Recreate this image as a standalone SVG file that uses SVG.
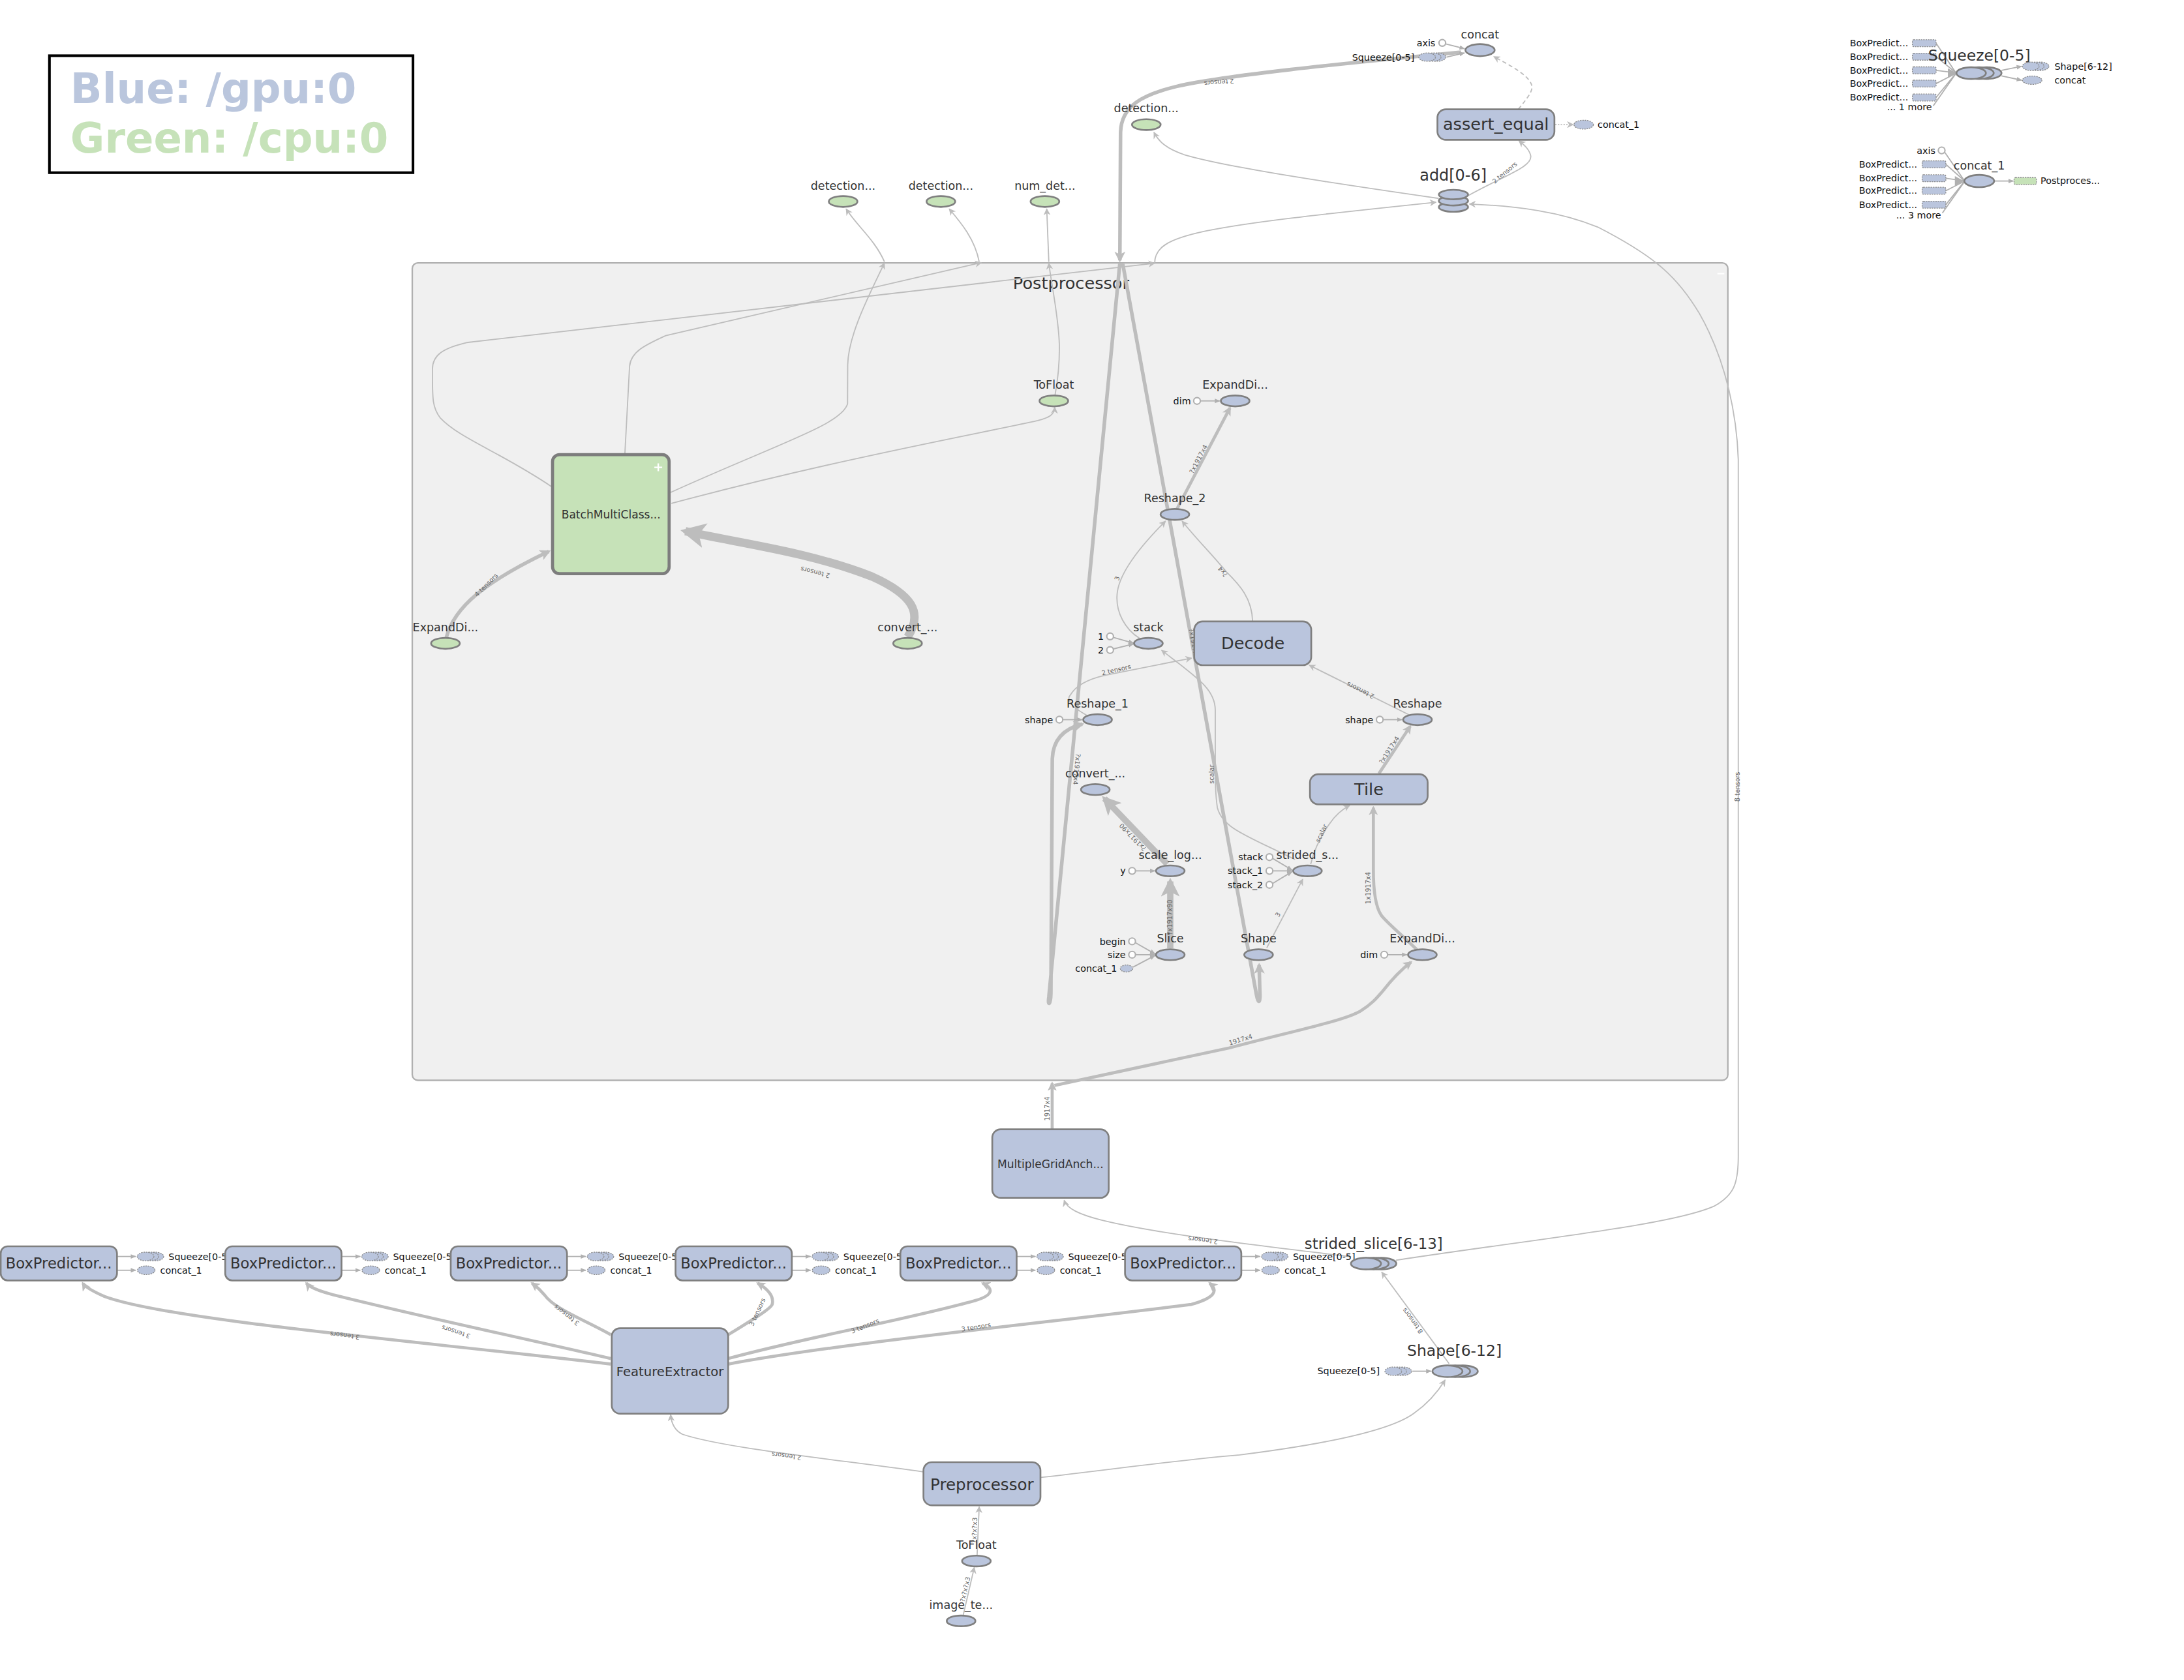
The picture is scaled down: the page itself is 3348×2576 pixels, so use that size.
<svg xmlns="http://www.w3.org/2000/svg" width="3348" height="2576" viewBox="0 0 3348 2576">
<defs>
<style>
.e{fill:none;stroke:#bdbdbd;stroke-width:.85}
.e2{fill:none;stroke:#bdbdbd;stroke-width:2.2}
.e3{fill:none;stroke:#bdbdbd;stroke-width:2.6}
.e4{fill:none;stroke:#bdbdbd;stroke-width:4.5}
.e6{fill:none;stroke:#bdbdbd;stroke-width:6}
.ed{fill:none;stroke:#bdbdbd;stroke-width:.85;stroke-dasharray:3 2}
.eo{fill:none;stroke:#bdbdbd;stroke-width:.85;stroke-dasharray:1 1}
.ei{fill:none;stroke:#b0b0b0;stroke-width:.85}
.b{fill:#bac5dd;stroke:#7f7f7f;stroke-width:1.25}
.g{fill:#c6e2b8;stroke:#7f7f7f;stroke-width:1.25}
.bd{fill:#bac5dd;stroke:#8a8a8a;stroke-width:.6;stroke-dasharray:1 .7}
.gd{fill:#c6e2b8;stroke:#8a8a8a;stroke-width:.6;stroke-dasharray:1 .7}
.c{fill:#fff;stroke:#b0b0b0;stroke-width:1}
text{font-family:"DejaVu Sans","Noto Sans",Verdana,sans-serif}
.l{font-size:8.2px;fill:#333;text-anchor:middle}
.L{font-size:12px;fill:#333;text-anchor:middle}
.s{font-size:6.7px;fill:#111;text-anchor:end}
.sl{font-size:6.7px;fill:#111}
.t{font-size:4.6px;fill:#666;text-anchor:middle}
.bp{font-size:10.6px;fill:#333;text-anchor:middle}
</style>
<marker id="m" viewBox="0 0 10 10" refX="9" refY="5" markerWidth="5" markerHeight="5" markerUnits="userSpaceOnUse" orient="auto"><path d="M0,0L10,5L0,10L3,5z" fill="#bdbdbd"/></marker>
<marker id="M" viewBox="0 0 10 10" refX="8" refY="5" markerWidth="3" markerHeight="3" orient="auto"><path d="M0,0L10,5L0,10L2.5,5z" fill="#bdbdbd"/></marker>
<marker id="i" viewBox="0 0 10 10" refX="9" refY="5" markerWidth="4" markerHeight="4" markerUnits="userSpaceOnUse" orient="auto"><path d="M0,1L10,5L0,9z" fill="#b0b0b0"/></marker>
</defs>
<rect width="3348" height="2576" fill="#fff"/>
<g transform="scale(2.13520408)">

<g id="legend">
<rect x="35.5" y="40" width="261" height="84" fill="none" stroke="#000" stroke-width="1.9"/>
<text x="50.5" y="74" font-size="30" font-weight="bold" fill="#bac6dd">Blue: /gpu:0</text>
<text x="50.5" y="109.5" font-size="30" font-weight="bold" fill="#c6e2b9">Green: /cpu:0</text>
</g>

<g id="Postprocessor">
<rect x="296" y="188.8" width="944.5" height="587" rx="4" fill="#f0f0f0" stroke="#b0b0b0" stroke-width="1.1"/>
<text class="L" x="769" y="207.3">Postprocessor</text>
<line x1="1233" y1="196.5" x2="1238" y2="196.5" stroke="#fff" stroke-width="1"/>
</g>

<g id="connectors">
<path class="e3" d="M1049,37.5 C960,46 880,54 845,62 C820,68 805,76 804.5,95 L804,187" marker-end="url(#M)"/>
<text class="t" transform="translate(875,56) rotate(175.5)" y="-1.5">2 tensors</text>
<path class="e3" d="M804,189 L753,716 C752,723 754.5,722 754.5,712 L755.5,545 C756,530 765,523 777,520" marker-end="url(#M)"/>
<text class="t" transform="translate(769.5,552) rotate(95.5)" y="-2">?x1917x4</text>
<path class="e3" d="M806,189 L902,714 C903.5,722 905,720 904.5,712 L904,693" marker-end="url(#M)"/>
<text class="t" transform="translate(853.6,463) rotate(79.6)" y="-2">?x1917x4</text>

<path class="e" d="M396.5,349.8 C360,325 330,315 316,300 C310,292 310.5,285 310.5,265 C310.5,255 318,250 335,246 L829,189" marker-end="url(#m)"/>
<path class="e" d="M829,189 C829,168 860,163 1031,145.2" marker-end="url(#m)"/>
<path class="e" d="M448.6,326.4 C450,300 451,280 452,263 C453,252 465,247 478,241 L704.5,188.6" marker-end="url(#m)"/>
<path class="e" d="M703,188 C700,172 690,160 681.5,150" marker-end="url(#m)"/>
<path class="e" d="M481.5,353.6 C560,318 604,305 608.5,290 L608.6,262 C609,240 625,210 635,188.8" marker-end="url(#m)"/>
<path class="e" d="M635,188 C628,172 615,162 607.5,150" marker-end="url(#m)"/>
<path class="e" d="M757.5,283.5 C760,270 760.6,260 760.6,249.7 C760.5,230 755,205 753,189" marker-end="url(#m)"/>
<path class="e" d="M753,188 L751.5,150" marker-end="url(#m)"/>
<path class="e" d="M482,361.5 C600,330 700,312 745,302 C753,300 757,298 757.3,292.5" marker-end="url(#m)"/>

<path class="e3" d="M320.4,458 C326,436 348,418 394,396" marker-end="url(#M)"/>
<text class="t" transform="translate(351.6,422.6) rotate(-45)" y="-2">4 tensors</text>
<path class="e6" d="M651.6,457.5 C663,440 655,427 626,414 C580,396 530,390 492,381.5" marker-end="url(#M)"/>
<text class="t" transform="translate(586.5,406) rotate(194)" y="-3.5">2 tensors</text>

<path class="e2" d="M845,365.5 L883,293" marker-end="url(#M)"/>
<text class="t" transform="translate(863.6,331.4) rotate(-62.4)" y="-2">?x1917x4</text>
<path class="e" d="M899.3,446.3 C899,430 890,420 880.5,410.7 C870,398 858,386 848.7,374.2" marker-end="url(#m)"/>
<text class="t" transform="translate(880,409) rotate(-128)" y="-1">?x4</text>
<path class="e" d="M818,458.3 C808,452 801,440 802,427 C803,412 818,393 836.8,374.2" marker-end="url(#m)"/>
<text class="t" transform="translate(804.6,416) rotate(-75)" y="-1">3</text>
<path class="e" d="M929.8,617.3 C895,600 878,595 874,580 C872.5,570 872.5,560 872.5,545 L872.5,510 C872.5,495 860,487 834,467" marker-end="url(#m)"/>
<text class="t" transform="translate(872.5,556) rotate(-90)" y="-1">scalar</text>
<path class="e" d="M780,513.5 C770,508 765,503 768.5,499 C772,493 780,488 793,485 L855.5,472.6" marker-end="url(#m)"/>
<text class="t" transform="translate(802,483.5) rotate(-13)" y="-1">2 tensors</text>
<path class="e" d="M1011.6,513.3 L940,477.7" marker-end="url(#m)"/>
<text class="t" transform="translate(977.9,493.4) rotate(206.4)" y="-1">2 tensors</text>
<path class="e2" d="M990,555.5 L1012.5,521.5" marker-end="url(#M)"/>
<text class="t" transform="translate(1000.4,540.6) rotate(-57)" y="-2">?x1917x4</text>
<path class="e4" d="M838,620.5 L793,573.5" marker-end="url(#M)"/>
<text class="t" transform="translate(816.6,598) rotate(-133.8)" y="-3">?x1917x90</text>
<path class="e4" d="M840.2,681 L840.2,633" marker-end="url(#M)"/>
<text class="t" transform="translate(840.2,658.8) rotate(-90)" y="1.6">?x1917x90</text>
<path class="e" d="M909.5,680.6 L935.3,631.4" marker-end="url(#m)"/>
<text class="t" transform="translate(919.7,658) rotate(-62)" y="-1">3</text>
<path class="e" d="M941,620.6 C944,608 950,598 954.5,591.6 C959,585 964,581 969,578.4" marker-end="url(#m)"/>
<text class="t" transform="translate(951,599.5) rotate(-65)" y="-1">scalar</text>
<path class="e2" d="M1017.3,682 C1005,670 995,662 991.5,657 C987,650 986,638 986,624.4 L986,580" marker-end="url(#M)"/>
<text class="t" transform="translate(986,637.7) rotate(-90)" y="-2">1x1917x4</text>

<path class="e2" d="M755.4,811 L755.4,778" marker-end="url(#M)"/>
<text class="t" transform="translate(755.4,796.2) rotate(-90)" y="-2">1917x4</text>
<path class="e2" d="M757,779.5 L882.7,752.5 C930,740 965,733 976.8,726 C985,721 989,716 992.5,712 C998,705 1005,697 1013,691" marker-end="url(#M)"/>
<text class="t" transform="translate(891.7,750) rotate(-17)" y="-2">1917x4</text>
<path class="e" d="M970,902.5 C900,894 830,886 790,876 C775,872 766,868 764,862" marker-end="url(#m)"/>
<text class="t" transform="translate(864,888) rotate(186.5)" y="-1">2 tensors</text>

<path class="e" d="M1040.4,979.3 L992,913.5" marker-end="url(#m)"/>
<text class="t" transform="translate(1016.3,947) rotate(-126)" y="-1">8 tensors</text>
<path class="e" d="M747,1061 C800,1055 850,1048 890,1044.8 C960,1036 1000,1026 1015,1015 C1025,1008 1032,1000 1037.5,991" marker-end="url(#m)"/>
<path class="e" d="M1002.2,905 C1100,890 1200,880 1231,866 C1245,858 1248,850 1248,830 L1248,330 C1247,300 1240,260 1220,225 C1205,200 1190,185 1147,163 C1120,152 1090,148 1055,146.5" marker-end="url(#m)"/>
<text class="t" transform="translate(1250,565) rotate(-90)" y="-1">8 tensors</text>

<path class="e" d="M1054,140.5 C1080,126 1100,120 1099,112 C1098,107 1094,104 1090.5,101" marker-end="url(#m)"/>
<text class="t" transform="translate(1082,126) rotate(-40)" y="-1">2 tensors</text>
<path class="ed" d="M1090,78.5 C1097,70 1101,65 1099.6,60.9 C1097,53 1082,46 1072.5,40.6" marker-end="url(#m)"/>
<path class="e" d="M1033,142.5 C960,132 880,120 850,111 C838,107 832,102 828.5,95" marker-end="url(#m)"/>
<path class="eo" d="M1116.5,89.5 L1129.5,89.5" marker-end="url(#m)"/>
<path class="ei" d="M1038,31.5 L1051.5,35" marker-end="url(#i)"/>
<path class="ei" d="M1038.5,41 L1051.5,38" marker-end="url(#i)"/>

<path class="e2" d="M438.6,979.6 C300,963 120,948 75,931 C66,927 61,924 59.5,921.5" marker-end="url(#M)"/>
<text class="t" transform="translate(248,955.5) rotate(187)" y="-2">3 tensors</text>
<path class="e2" d="M438.6,975.6 C380,962 300,945 240,930 C228,927 222,924 220,921.5" marker-end="url(#M)"/>
<text class="t" transform="translate(328.5,953) rotate(198)" y="-2">3 tensors</text>
<path class="e2" d="M438.6,958.5 C420,948 398,940 391,930 C387,925 384,923 382,921.5" marker-end="url(#M)"/>
<text class="t" transform="translate(409,941.5) rotate(218)" y="-2">3 tensors</text>
<path class="e2" d="M522.8,958.5 C540,948 553,940 554.4,936.7 C556,930 550,925 544,921.5" marker-end="url(#M)"/>
<text class="t" transform="translate(547,943.7) rotate(-65)" y="-2">3 tensors</text>
<path class="e2" d="M522.8,975.6 C580,960 650,948 700,934 C714,930 713,925 705.5,921.5" marker-end="url(#M)"/>
<text class="t" transform="translate(622.4,955.5) rotate(-22)" y="-2">3 tensors</text>
<path class="e2" d="M522.8,979.6 C600,965 750,950 855.4,936.7 C872,932 875,927 868.5,921.5" marker-end="url(#M)"/>
<text class="t" transform="translate(701.3,956.5) rotate(-9)" y="-2">3 tensors</text>

<path class="e" d="M663,1057 C600,1048 520,1040 490,1030 C484,1027 482,1022 481.5,1016" marker-end="url(#m)"/>
<text class="t" transform="translate(565,1043) rotate(188)" y="-1">2 tensors</text>
<path class="e" d="M691.5,1160 L699.5,1125.5" marker-end="url(#m)"/>
<text class="t" transform="translate(695.5,1142) rotate(-77)" y="-1">?x?x?x3</text>
<path class="e" d="M701.5,1117 L703,1082" marker-end="url(#m)"/>
<text class="t" transform="translate(702.2,1099) rotate(-88)" y="-1">?x?x?x3</text>

<g class="ei">
<path d="M84,902.3 L97.5,902.3" marker-end="url(#i)"/><path d="M84,912.2 L97.5,912.2" marker-end="url(#i)"/>
<path d="M245.2,902.3 L258.7,902.3" marker-end="url(#i)"/><path d="M245.2,912.2 L258.7,912.2" marker-end="url(#i)"/>
<path d="M407.1,902.3 L420.6,902.3" marker-end="url(#i)"/><path d="M407.1,912.2 L420.6,912.2" marker-end="url(#i)"/>
<path d="M568.5,902.3 L582,902.3" marker-end="url(#i)"/><path d="M568.5,912.2 L582,912.2" marker-end="url(#i)"/>
<path d="M729.9,902.3 L743.4,902.3" marker-end="url(#i)"/><path d="M729.9,912.2 L743.4,912.2" marker-end="url(#i)"/>
<path d="M891.2,902.3 L904.7,902.3" marker-end="url(#i)"/><path d="M891.2,912.2 L904.7,912.2" marker-end="url(#i)"/>
<path d="M1014,984.7 L1027.5,984.7" marker-end="url(#i)"/>
</g>

<g class="ei">
<path d="M862,287.9 L875.8,287.9" marker-end="url(#i)"/>
<path d="M799.4,457.8 L813.8,461.8" marker-end="url(#i)"/>
<path d="M799.4,466 L813.8,462.4" marker-end="url(#i)"/>
<path d="M763,516.8 L777,516.8" marker-end="url(#i)"/>
<path d="M993,516.8 L1006.7,516.8" marker-end="url(#i)"/>
<path d="M815.2,625.4 L829.2,625.4" marker-end="url(#i)"/>
<path d="M913.8,616.5 L927.6,624.8" marker-end="url(#i)"/>
<path d="M913.8,625.4 L927.6,625.4" marker-end="url(#i)"/>
<path d="M913.8,634.4 L927.6,626" marker-end="url(#i)"/>
<path d="M815.2,677 L829.2,685" marker-end="url(#i)"/>
<path d="M815.2,685.6 L829.2,685.6" marker-end="url(#i)"/>
<path d="M813.5,694.5 L829.2,686.2" marker-end="url(#i)"/>
<path d="M996.2,685.6 L1010.2,685.6" marker-end="url(#i)"/>
</g>

<g class="ei">
<path d="M1390,31 L1404,52"/><path d="M1390,40.7 L1404,52"/><path d="M1390,50.5 L1404,52.3"/><path d="M1390,60 L1404,52.8"/><path d="M1390,70 L1404,53"/><path d="M1388,76 L1404,53.2"/>
<path d="M1437,50.5 L1451.5,47.6" marker-end="url(#i)"/><path d="M1437,54.5 L1451.5,57.6" marker-end="url(#i)"/>
<path d="M1396.3,109.5 L1410,129.3"/><path d="M1397,118 L1410,129.5"/><path d="M1397,128 L1410,129.8"/><path d="M1397,137 L1410,130.3"/><path d="M1397,147 L1410,130.7"/><path d="M1394.5,153 L1410,131"/>
<path d="M1432,130 L1445.5,130" marker-end="url(#i)"/>
</g>
<path d="M1398.5,49 L1404.8,52.5 L1398.5,56z" fill="#b0b0b0"/>
<path d="M1403.5,126.5 L1410,130 L1403.5,133.5z" fill="#b0b0b0"/>
</g>

<g id="BatchMultiClass">
<rect x="396.7" y="326.5" width="83.7" height="85.5" rx="5" fill="#c6e2b8" stroke="#7d7d7d" stroke-width="2.2"/>
<path d="M469.8,335.6 H475.4 M472.6,332.8 V338.4" stroke="#fff" stroke-width="1.1"/>
<text x="438.7" y="372.2" font-size="8" fill="#333" text-anchor="middle">BatchMultiClass...</text>
</g>
<g id="ExpandDims_left"><ellipse class="g" cx="319.8" cy="462" rx="10.3" ry="3.9"/><text class="l" x="319.8" y="453.3">ExpandDi...</text></g>
<g id="convert_left"><ellipse class="g" cx="651.6" cy="462" rx="10.3" ry="3.9"/><text class="l" x="651.6" y="453.3">convert_...</text></g>
<g id="ToFloat_post"><ellipse class="g" cx="756.6" cy="287.9" rx="10.3" ry="3.9"/><text class="l" x="756.6" y="279.3">ToFloat</text></g>
<g id="ExpandDims_top"><ellipse class="b" cx="886.8" cy="287.9" rx="10.3" ry="3.9"/><text class="l" x="886.8" y="279.3">ExpandDi...</text><circle class="c" cx="859.4" cy="287.9" r="2.4"/><text class="s" x="855" y="290.3">dim</text></g>
<g id="Reshape_2"><ellipse class="b" cx="843.5" cy="369.4" rx="10.3" ry="3.9"/><text class="l" x="843.5" y="360.7">Reshape_2</text></g>
<g id="stack"><ellipse class="b" cx="824.5" cy="462" rx="10.3" ry="3.9"/><text class="l" x="824.5" y="453.3">stack</text>
<circle class="c" cx="797" cy="457" r="2.4"/><circle class="c" cx="797" cy="466.8" r="2.4"/><text class="s" x="792.5" y="459.4">1</text><text class="s" x="792.5" y="469.2">2</text></g>
<g id="Decode"><rect class="b" x="857.4" y="446.3" width="84" height="31.4" rx="6"/><text class="L" x="899.5" y="466.2">Decode</text></g>
<g id="Reshape_1"><ellipse class="b" cx="788" cy="516.8" rx="10.3" ry="3.9"/><text class="l" x="788" y="508.1">Reshape_1</text><circle class="c" cx="760.6" cy="516.8" r="2.4"/><text class="s" x="756" y="519.2">shape</text></g>
<g id="Reshape"><ellipse class="b" cx="1017.7" cy="516.8" rx="10.3" ry="3.9"/><text class="l" x="1017.7" y="508.1">Reshape</text><circle class="c" cx="990.6" cy="516.8" r="2.4"/><text class="s" x="986" y="519.2">shape</text></g>
<g id="Tile"><rect class="b" x="940.5" y="556" width="84.5" height="21.6" rx="6"/><text class="L" x="982.8" y="571">Tile</text></g>
<g id="convert_lower"><ellipse class="b" cx="786.4" cy="567" rx="10.3" ry="3.9"/><text class="l" x="786.4" y="558.3">convert_...</text></g>
<g id="scale_logits"><ellipse class="b" cx="840.2" cy="625.4" rx="10.3" ry="3.9"/><text class="l" x="840.2" y="616.7">scale_log...</text><circle class="c" cx="812.8" cy="625.4" r="2.4"/><text class="s" x="808.2" y="627.8">y</text></g>
<g id="strided_slice"><ellipse class="b" cx="938.7" cy="625.4" rx="10.3" ry="3.9"/><text class="l" x="938.7" y="616.7">strided_s...</text>
<circle class="c" cx="911.4" cy="615.5" r="2.4"/><circle class="c" cx="911.4" cy="625.4" r="2.4"/><circle class="c" cx="911.4" cy="635.4" r="2.4"/>
<text class="s" x="906.8" y="617.9">stack</text><text class="s" x="906.8" y="627.8">stack_1</text><text class="s" x="906.8" y="637.8">stack_2</text></g>
<g id="Slice"><ellipse class="b" cx="840.2" cy="685.6" rx="10.3" ry="3.9"/><text class="l" x="840.2" y="676.9">Slice</text>
<circle class="c" cx="812.8" cy="676" r="2.4"/><circle class="c" cx="812.8" cy="685.6" r="2.4"/><ellipse class="bd" cx="808.8" cy="695.5" rx="4.5" ry="2.5"/>
<text class="s" x="808.2" y="678.4">begin</text><text class="s" x="808.2" y="688">size</text><text class="s" x="802" y="697.9">concat_1</text></g>
<g id="Shape"><ellipse class="b" cx="903.6" cy="685.6" rx="10.3" ry="3.9"/><text class="l" x="903.6" y="676.9">Shape</text></g>
<g id="ExpandDims_lower"><ellipse class="b" cx="1021.2" cy="685.6" rx="10.3" ry="3.9"/><text class="l" x="1021.2" y="676.9">ExpandDi...</text><circle class="c" cx="993.8" cy="685.6" r="2.4"/><text class="s" x="989.2" y="688">dim</text></g>

<g id="detection_boxes"><ellipse class="g" cx="605.3" cy="144.7" rx="10.3" ry="3.9"/><text class="l" x="605.3" y="136.3">detection...</text></g>
<g id="detection_scores"><ellipse class="g" cx="675.5" cy="144.7" rx="10.3" ry="3.9"/><text class="l" x="675.5" y="136.3">detection...</text></g>
<g id="num_detections"><ellipse class="g" cx="750.2" cy="144.7" rx="10.3" ry="3.9"/><text class="l" x="750.2" y="136.3">num_det...</text></g>
<g id="detection_top"><ellipse class="g" cx="823" cy="89.5" rx="10.3" ry="3.9"/><text class="l" x="823" y="80.4">detection...</text></g>

<g id="concat">
<ellipse class="b" cx="1062.6" cy="36" rx="10.5" ry="4.3"/><text class="l" x="1062.6" y="27.8">concat</text>
<circle class="c" cx="1035.5" cy="30.8" r="2.4"/><text class="s" x="1030.5" y="33.2">axis</text>
<ellipse class="bd" cx="1032" cy="41" rx="6" ry="3"/><ellipse class="bd" cx="1028.6" cy="41" rx="6" ry="3"/><ellipse class="bd" cx="1024.6" cy="41" rx="6" ry="3"/>
<text class="s" x="1015.5" y="43.5">Squeeze[0-5]</text>
</g>
<g id="assert_equal">
<rect class="b" x="1032" y="78.5" width="84" height="21.9" rx="6"/><text class="L" x="1074" y="93.4">assert_equal</text>
<ellipse class="bd" cx="1137" cy="89.5" rx="7" ry="3.2"/><text class="sl" x="1147" y="91.8">concat_1</text>
</g>
<g id="add">
<ellipse class="b" cx="1043.5" cy="148.7" rx="10.5" ry="3.4"/>
<ellipse class="b" cx="1043.5" cy="144.2" rx="10.5" ry="3.4"/>
<ellipse class="b" cx="1043.5" cy="139.7" rx="10.5" ry="3.4"/>
<text x="1043.3" y="129.6" font-size="11.2" fill="#333" text-anchor="middle">add[0-6]</text>
</g>

<g id="MultipleGridAnchorGenerator"><rect class="b" x="712.4" y="811" width="83.6" height="49.2" rx="6"/><text x="754.2" y="838.6" font-size="8" fill="#333" text-anchor="middle">MultipleGridAnch...</text></g>

<g id="BoxPredictor_0"><rect class="b" x="0.5" y="895" width="83.5" height="24.5" rx="5"/><text class="bp" x="42.2" y="910.8">BoxPredictor...</text>
<ellipse class="bd" cx="111.5" cy="902.3" rx="6" ry="3.1"/><ellipse class="bd" cx="108" cy="902.3" rx="6" ry="3.1"/><ellipse class="bd" cx="104.5" cy="902.3" rx="6" ry="3.1"/><ellipse class="bd" cx="105" cy="912.2" rx="6.3" ry="3.1"/>
<text class="sl" x="121" y="904.6">Squeeze[0-5]</text><text class="sl" x="115" y="914.5">concat_1</text></g>
<g id="BoxPredictor_1"><rect class="b" x="161.7" y="895" width="83.5" height="24.5" rx="5"/><text class="bp" x="203.4" y="910.8">BoxPredictor...</text>
<ellipse class="bd" cx="272.7" cy="902.3" rx="6" ry="3.1"/><ellipse class="bd" cx="269.2" cy="902.3" rx="6" ry="3.1"/><ellipse class="bd" cx="265.7" cy="902.3" rx="6" ry="3.1"/><ellipse class="bd" cx="266.2" cy="912.2" rx="6.3" ry="3.1"/>
<text class="sl" x="282.2" y="904.6">Squeeze[0-5]</text><text class="sl" x="276.2" y="914.5">concat_1</text></g>
<g id="BoxPredictor_2"><rect class="b" x="323.6" y="895" width="83.5" height="24.5" rx="5"/><text class="bp" x="365.3" y="910.8">BoxPredictor...</text>
<ellipse class="bd" cx="434.6" cy="902.3" rx="6" ry="3.1"/><ellipse class="bd" cx="431.1" cy="902.3" rx="6" ry="3.1"/><ellipse class="bd" cx="427.6" cy="902.3" rx="6" ry="3.1"/><ellipse class="bd" cx="428.1" cy="912.2" rx="6.3" ry="3.1"/>
<text class="sl" x="444.1" y="904.6">Squeeze[0-5]</text><text class="sl" x="438.1" y="914.5">concat_1</text></g>
<g id="BoxPredictor_3"><rect class="b" x="485" y="895" width="83.5" height="24.5" rx="5"/><text class="bp" x="526.7" y="910.8">BoxPredictor...</text>
<ellipse class="bd" cx="596" cy="902.3" rx="6" ry="3.1"/><ellipse class="bd" cx="592.5" cy="902.3" rx="6" ry="3.1"/><ellipse class="bd" cx="589" cy="902.3" rx="6" ry="3.1"/><ellipse class="bd" cx="589.5" cy="912.2" rx="6.3" ry="3.1"/>
<text class="sl" x="605.5" y="904.6">Squeeze[0-5]</text><text class="sl" x="599.5" y="914.5">concat_1</text></g>
<g id="BoxPredictor_4"><rect class="b" x="646.4" y="895" width="83.5" height="24.5" rx="5"/><text class="bp" x="688.1" y="910.8">BoxPredictor...</text>
<ellipse class="bd" cx="757.4" cy="902.3" rx="6" ry="3.1"/><ellipse class="bd" cx="753.9" cy="902.3" rx="6" ry="3.1"/><ellipse class="bd" cx="750.4" cy="902.3" rx="6" ry="3.1"/><ellipse class="bd" cx="750.9" cy="912.2" rx="6.3" ry="3.1"/>
<text class="sl" x="766.9" y="904.6">Squeeze[0-5]</text><text class="sl" x="760.9" y="914.5">concat_1</text></g>
<g id="BoxPredictor_5"><rect class="b" x="807.7" y="895" width="83.5" height="24.5" rx="5"/><text class="bp" x="849.4" y="910.8">BoxPredictor...</text>
<ellipse class="bd" cx="918.7" cy="902.3" rx="6" ry="3.1"/><ellipse class="bd" cx="915.2" cy="902.3" rx="6" ry="3.1"/><ellipse class="bd" cx="911.7" cy="902.3" rx="6" ry="3.1"/><ellipse class="bd" cx="912.2" cy="912.2" rx="6.3" ry="3.1"/>
<text class="sl" x="928.2" y="904.6">Squeeze[0-5]</text><text class="sl" x="922.2" y="914.5">concat_1</text></g>

<g id="strided_slice_6_13">
<ellipse class="b" cx="991.7" cy="907.4" rx="10.8" ry="4.2"/><ellipse class="b" cx="986.2" cy="907.4" rx="10.8" ry="4.2"/><ellipse class="b" cx="980.7" cy="907.4" rx="10.8" ry="4.2"/>
<text x="986.2" y="896.9" font-size="10.7" fill="#333" text-anchor="middle">strided_slice[6-13]</text>
</g>
<g id="Shape_6_12">
<ellipse class="b" cx="1050.2" cy="984.7" rx="10.8" ry="4.2"/><ellipse class="b" cx="1044.7" cy="984.7" rx="10.8" ry="4.2"/><ellipse class="b" cx="1039.2" cy="984.7" rx="10.8" ry="4.2"/>
<text x="1044.2" y="973.9" font-size="11" fill="#333" text-anchor="middle">Shape[6-12]</text>
<ellipse class="bd" cx="1007.4" cy="984.7" rx="6" ry="3"/><ellipse class="bd" cx="1003.8" cy="984.7" rx="6" ry="3"/><ellipse class="bd" cx="1000.3" cy="984.7" rx="6" ry="3"/>
<text class="s" x="990.6" y="987">Squeeze[0-5]</text>
</g>

<g id="FeatureExtractor"><rect class="b" x="439.2" y="953.8" width="83.6" height="61.4" rx="6"/><text x="481" y="988.2" font-size="9.2" fill="#333" text-anchor="middle">FeatureExtractor</text></g>
<g id="Preprocessor"><rect class="b" x="663" y="1050" width="84" height="31" rx="6"/><text x="705" y="1070" font-size="11.5" fill="#333" text-anchor="middle">Preprocessor</text></g>
<g id="ToFloat"><ellipse class="b" cx="701" cy="1121" rx="10.3" ry="3.9"/><text class="l" x="701" y="1112.5">ToFloat</text></g>
<g id="image_tensor"><ellipse class="b" cx="690" cy="1164" rx="10.3" ry="3.9"/><text class="l" x="690" y="1155.5">image_te...</text></g>

<g id="Squeeze_0_5">
<rect class="bd" x="1373" y="28.5" width="17" height="5" rx="1"/><rect class="bd" x="1373" y="38.2" width="17" height="5" rx="1"/><rect class="bd" x="1373" y="48" width="17" height="5" rx="1"/><rect class="bd" x="1373" y="57.5" width="17" height="5" rx="1"/><rect class="bd" x="1373" y="67.5" width="17" height="5" rx="1"/>
<text class="s" x="1370" y="33.3">BoxPredict...</text><text class="s" x="1370" y="43">BoxPredict...</text><text class="s" x="1370" y="52.8">BoxPredict...</text><text class="s" x="1370" y="62.3">BoxPredict...</text><text class="s" x="1370" y="72.3">BoxPredict...</text>
<text class="s" x="1387" y="79.2">... 1 more</text>
<ellipse class="b" cx="1426.4" cy="52.5" rx="10.6" ry="4.2"/><ellipse class="b" cx="1420.8" cy="52.5" rx="10.6" ry="4.2"/><ellipse class="b" cx="1415.2" cy="52.5" rx="10.6" ry="4.2"/>
<text x="1421" y="43.4" font-size="11" fill="#333" text-anchor="middle">Squeeze[0-5]</text>
<ellipse class="bd" cx="1465" cy="47.6" rx="6" ry="3"/><ellipse class="bd" cx="1461.5" cy="47.6" rx="6" ry="3"/><ellipse class="bd" cx="1458" cy="47.6" rx="6" ry="3"/>
<text class="sl" x="1475" y="50">Shape[6-12]</text>
<ellipse class="bd" cx="1459" cy="57.6" rx="7" ry="3"/><text class="sl" x="1475" y="60">concat</text>
</g>
<g id="concat_1">
<circle class="c" cx="1394" cy="108" r="2.4"/><text class="s" x="1389.5" y="110.3">axis</text>
<rect class="bd" x="1380" y="115.5" width="17" height="5" rx="1"/><rect class="bd" x="1380" y="125.5" width="17" height="5" rx="1"/><rect class="bd" x="1380" y="134.5" width="17" height="5" rx="1"/><rect class="bd" x="1380" y="144.5" width="17" height="5" rx="1"/>
<text class="s" x="1376.5" y="120.3">BoxPredict...</text><text class="s" x="1376.5" y="130.3">BoxPredict...</text><text class="s" x="1376.5" y="139.3">BoxPredict...</text><text class="s" x="1376.5" y="149.3">BoxPredict...</text>
<text class="s" x="1393.6" y="157">... 3 more</text>
<ellipse class="b" cx="1421" cy="130" rx="10.7" ry="4.4"/><text x="1421" y="121.8" font-size="8.2" fill="#333" text-anchor="middle">concat_1</text>
<rect class="gd" x="1446" y="127.5" width="16" height="5" rx="1"/><text class="sl" x="1465" y="132.3">Postproces...</text>
</g>
</g>
</svg>
